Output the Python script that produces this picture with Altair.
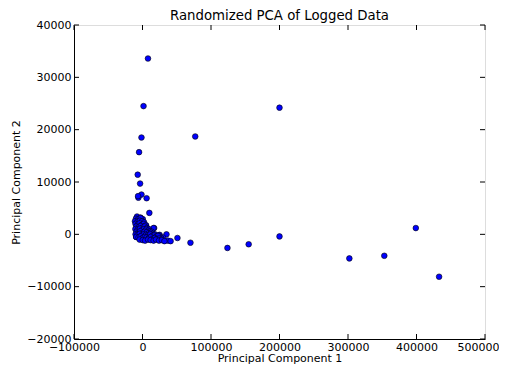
import altair as alt
import pandas as pd

# Principal component scores
pc1 = [
    # outliers
    8000, 1500, 200000, -1500, 77000, -5000, -7000, -3500, -1500, -6000, -6500, 6000,
    10000, -8000, 124000, 155000, 200000, 302000, 353000, 399000, 433000,
    # tail of the cluster
    17000, 16000, 5300, 35000, 51000, 70000, 37000, 41000, 25000, 30000, 23800, 27200,
    -9300, -2900, 400,
    # dense cluster
    -9500, -6200, -2800, -11000, -7300, -3900, -600, 2300,
    -10200, -6800, -4300, -1200, 1800, 4700,
    -9100, -5700, -2600, 300, 3200, 6400, 9200,
    -10400, -7100, -3700, -900, 2100, 5200, 8300, 11100, 13800,
    -8800, -6100, -3300, 200, 2900, 6100, 8800, 12300, 15200, 18100,
    -10100, -7400, -4100, -1300, 1700, 4900, 7800, 11200, 14300, 16900, 20300, 22600,
    -9200, -5800, -2700, 100, 3300, 5800, 9300, 12100, 15400, 17800, 21200, 24300, 27800,
    -4200, 300, 3800, 8100, 11800, 16200, 19700, 24100, 28300, 32000,
]
pc2 = [
    33600, 24500, 24200, 18500, 18700, 15700, 11400, 9700, 7600, 7000, 7300, 6900,
    4100, 3400, -2600, -1900, -400, -4600, -4100, 1200, -8100,
    1200, 1200, 1700, 0, -700, -1600, -1200, -1300, -100, -600, -200, -700,
    -500, 3200, 2900,
    3000, 2900, 3100, 2500, 2400, 2600, 2500, 2300,
    2000, 1900, 2100, 1800, 2000, 1700,
    1500, 1400, 1600, 1300, 1500, 1200, 1000,
    1000, 900, 1100, 800, 1000, 900, 700, 600, 500,
    500, 400, 600, 300, 500, 400, 200, 300, 100, 0,
    0, -100, 100, -200, 0, -100, -200, 0, -300, -200, -400, -300,
    -500, -600, -400, -700, -500, -600, -700, -500, -800, -700, -900, -800, -1000,
    -1000, -1100, -1200, -1000, -1100, -1200, -1000, -1200, -1100, -1300,
]

x_ticks = [-100000, 0, 100000, 200000, 300000, 400000, 500000]
y_ticks = [-20000, -10000, 0, 10000, 20000, 30000, 40000]
title_text = ["Randomized PCA of Logged Data"]

W, H = 411, 314
FONT = "DejaVu Sans"

df = pd.DataFrame({"x": pc1, "y": pc2})
xt = pd.DataFrame({"x": x_ticks})
yt = pd.DataFrame({"y": y_ticks})
tt = pd.DataFrame({"t": title_text})

xscale = alt.Scale(domain=[-100000, 500000], nice=False, zero=False)
yscale = alt.Scale(domain=[-20000, 40000], nice=False, zero=False)

xaxis = alt.Axis(
    title="Principal Component 1", values=x_ticks, format="d", grid=False, ticks=False,
    labelFlush=False, labelOverlap=False, labelPadding=2, labelFontSize=11,
    labelFont=FONT, labelColor="black", domainColor="black", domainWidth=1,
    labelOffset={"condition": {"test": "datum.value == 500000", "value": -7}, "value": 0},
    titleFont=FONT, titleFontSize=11, titleFontWeight="normal", titleColor="black",
    titleX=W / 2, titleY=22.5, titleAlign="center", titleBaseline="alphabetic",
)
yaxis = alt.Axis(
    title="Principal Component 2", values=y_ticks, format="d", grid=False, ticks=False,
    labelFlush=False, labelOverlap=False, labelPadding=3, labelFontSize=11,
    labelFont=FONT, labelColor="black", domainColor="black", domainWidth=1,
    titleFont=FONT, titleFontSize=11, titleFontWeight="normal", titleColor="black",
    titleX=-58, titleY=H / 2, titleAlign="center", titleBaseline="middle", titleAngle=-90,
)

points = alt.Chart(df).mark_point(
    filled=True, shape="circle", size=32, fill="#0000ff", stroke="black",
    strokeWidth=0.6, opacity=1, fillOpacity=1,
).encode(
    x=alt.X("x:Q", scale=xscale, axis=xaxis),
    y=alt.Y("y:Q", scale=yscale, axis=yaxis),
)

tick_len = 5
bottom = alt.Chart(xt).mark_rule(color="black", strokeWidth=1).encode(
    x=alt.X("x:Q", scale=xscale), y=alt.value(H), y2=alt.value(H - tick_len))
top = alt.Chart(xt).mark_rule(color="black", strokeWidth=1).encode(
    x=alt.X("x:Q", scale=xscale), y=alt.value(0), y2=alt.value(tick_len))
left = alt.Chart(yt).mark_rule(color="black", strokeWidth=1).encode(
    y=alt.Y("y:Q", scale=yscale), x=alt.value(0), x2=alt.value(tick_len))
right = alt.Chart(yt).mark_rule(color="black", strokeWidth=1).encode(
    y=alt.Y("y:Q", scale=yscale), x=alt.value(W), x2=alt.value(W - tick_len))

title = alt.Chart(tt).mark_text(
    font=FONT, fontSize=13.3, color="black", align="center", baseline="alphabetic",
).encode(text="t:N", x=alt.value(W / 2), y=alt.value(-5.5))

chart = alt.layer(points, bottom, top, left, right, title).properties(
    width=W, height=H,
    autosize=alt.AutoSizeParams(type="none"),
    padding={"left": 66, "top": 17, "right": 14, "bottom": 25},
).configure_view(stroke="black", strokeWidth=1).configure(background="white")

chart.save("out.html", embed_options={"renderer": "svg", "actions": False})
